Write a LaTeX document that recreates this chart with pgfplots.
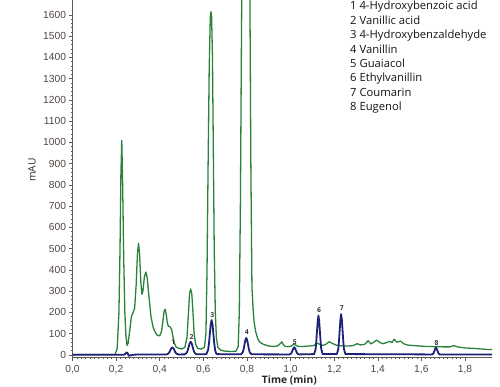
\documentclass[border=0pt]{standalone}
\usepackage{pgfplots}
\pgfplotsset{compat=1.18}
\usepackage{fontspec}
\setmainfont{Liberation Sans}
\newfontfamily\legfont{Open Sans}
\definecolor{gr}{RGB}{40,130,60}
\definecolor{nv}{RGB}{30,34,118}
\definecolor{axgray}{RGB}{95,90,88}
\definecolor{lblgray}{RGB}{80,70,66}
\begin{document}
\begin{tikzpicture}
\begin{axis}[
 scale only axis, width=419.5bp, height=357.7bp,
 xmin=0, xmax=1.924, ymin=-13, ymax=1670,
 axis lines=left, axis line style={-, axgray, line width=0.6pt},
 xtick={0,0.2,0.4,0.6,0.8,1.0,1.2,1.4,1.6,1.8},
 ytick={0,100,...,1600},
 minor x tick num=9, minor y tick num=4,
 tick align=outside, major tick length=3bp, minor tick length=1.5bp,
 tick style={axgray, line width=0.5pt},
 x tick label style={/pgf/number format/fixed, /pgf/number format/fixed zerofill, /pgf/number format/precision=1, /pgf/number format/use comma, yshift=-1bp},
 y tick label style={/pgf/number format/fixed, /pgf/number format/precision=0, /pgf/number format/1000 sep={}},
 /pgf/number format/assume math mode=true,
 ticklabel style={font=\fontsize{10.3}{11}\selectfont, text=lblgray},
 xlabel={Time (min)}, ylabel={mAU},
 every axis x label/.style={at={(rel axis cs:0.517,0)}, anchor=center, yshift=-22.3bp, font=\legfont\bfseries\fontsize{10.3}{11}\selectfont, text=black!85},
 every axis y label/.style={at={([xshift=-40.5bp]rel axis cs:0,0.525)}, rotate=90, anchor=center, font=\legfont\fontsize{10.3}{11}\selectfont, text=black!85},
 clip=true,
]
\coordinate (bl) at (rel axis cs:0,0);
\coordinate (tr) at (rel axis cs:1,1);
% green trace
\addplot[gr, line width=1.3pt, line join=round] coordinates {
(0,2) (0.195,2) (0.205,30) (0.213,200) (0.218,500) (0.222,850) (0.226,1010)
(0.230,800) (0.235,450) (0.240,200) (0.245,90) (0.250,45) (0.255,55)
(0.262,110) (0.270,180) (0.278,200) (0.285,220) (0.292,330) (0.298,480)
(0.303,525) (0.308,470) (0.313,350) (0.318,285) (0.323,300) (0.330,370)
(0.337,390) (0.343,360) (0.350,280) (0.360,180) (0.370,130) (0.380,105)
(0.390,92) (0.400,90) (0.408,110) (0.415,160) (0.420,205) (0.425,215)
(0.430,190) (0.435,150) (0.440,135) (0.448,132) (0.455,118) (0.460,90)
(0.467,55) (0.475,38) (0.485,32) (0.500,28) (0.515,35) (0.525,80)
(0.532,200) (0.537,290) (0.542,310) (0.547,290) (0.552,210) (0.558,100)
(0.565,50) (0.575,30) (0.590,28) (0.605,35) (0.612,100) (0.617,400)
(0.622,900) (0.627,1350) (0.632,1590) (0.635,1615) (0.638,1590) (0.642,1400)
(0.646,950) (0.650,500) (0.655,200) (0.660,80) (0.667,35) (0.680,22)
(0.700,18) (0.730,16) (0.750,18) (0.760,40) (0.765,200) (0.770,700)
(0.775,1500) (0.780,2200) (0.800,2800) (0.812,2000) (0.818,900)
(0.823,320) (0.828,220) (0.833,155) (0.840,110) (0.850,75) (0.860,60)
(0.875,50) (0.900,42) (0.920,40) (0.940,42) (0.955,55) (0.960,62)
(0.966,50) (0.975,40) (0.990,39) (1.005,42) (1.015,52) (1.022,47)
(1.035,40) (1.060,40) (1.080,42) (1.100,43) (1.115,48) (1.125,56)
(1.135,48) (1.150,45) (1.165,52) (1.177,62) (1.190,55) (1.210,46)
(1.240,42) (1.270,42) (1.290,45) (1.306,53) (1.320,47) (1.340,50)
(1.356,67) (1.368,52) (1.382,60) (1.395,70) (1.410,58) (1.425,53)
(1.440,58) (1.456,64) (1.465,58) (1.475,74) (1.488,60) (1.505,65)
(1.520,52) (1.540,46) (1.580,43) (1.620,40) (1.660,39) (1.700,38)
(1.730,38) (1.750,44) (1.765,38) (1.800,33) (1.850,30) (1.900,26) (1.924,25)
};
% blue trace
\addplot[nv, line width=1.8pt, line join=round] coordinates {
(0,0.5) (0.235,0.5) (0.242,5) (0.248,12) (0.253,8) (0.258,-4) (0.265,-2)
(0.280,1) (0.300,2)
(0.431,2.4) (0.440,6.6) (0.4445,13.0) (0.449,22.6) (0.4535,32.0) (0.458,36)
(0.4625,32.0) (0.467,22.6) (0.4715,13.0) (0.476,6.6) (0.485,2.4)
(0.515,2.7) (0.524,10.1) (0.5285,21.5) (0.533,38.4) (0.5375,55.0) (0.542,62)
(0.5465,55.0) (0.551,38.4) (0.5555,21.5) (0.560,10.1) (0.569,2.7)
(0.614,3.8) (0.622,23.9) (0.626,54.6) (0.630,100.3) (0.634,145) (0.638,164)
(0.642,145) (0.646,100.3) (0.650,54.6) (0.654,23.9) (0.658,9.1) (0.662,3.8)
(0.773,2.9) (0.781,12.5) (0.785,27.3) (0.789,49.3) (0.793,70.8) (0.797,80)
(0.801,70.8) (0.805,49.3) (0.809,27.3) (0.813,12.5) (0.821,2.9)
(0.996,2.4) (1.003,6.6) (1.010,22.6) (1.0135,32) (1.017,36) (1.0205,32)
(1.024,22.6) (1.031,6.6) (1.038,2.4)
(1.1085,4.0) (1.115,26.8) (1.118,61.4) (1.1215,113) (1.125,163.5) (1.128,185)
(1.131,163.5) (1.1345,113) (1.138,61.4) (1.141,26.8) (1.1475,4.0)
(1.2125,4.1) (1.219,27.7) (1.222,63.7) (1.2255,117.2) (1.229,169.7) (1.232,192)
(1.235,169.7) (1.2385,117.2) (1.242,63.7) (1.245,27.7) (1.2515,4.1)
(1.649,2.4) (1.655,6.3) (1.661,21.4) (1.664,30.2) (1.667,34) (1.670,30.2)
(1.673,21.4) (1.679,6.3) (1.685,2.4) (1.924,2)
};
% peak labels
\addplot[draw=none, mark=none, nodes near coords, point meta=explicit symbolic,
 every node near coord/.style={font=\legfont\bfseries\fontsize{6.8}{7}\selectfont, text=black!80, anchor=center, inner sep=0pt}]
 table[meta=l] {
x y l
0.462 62 1
0.546 86 2
0.641 188 3
0.800 108 4
1.020 62 5
1.131 211 6
1.235 220 7
1.670 58 8
};
\node[anchor=north west, inner sep=0pt, align=left, font=\legfont\fontsize{11.3}{14.5}\selectfont, text=black!92]
 at ([xshift=277.5bp, yshift=-1bp]rel axis cs:0,1) {1 4-Hydroxybenzoic acid\\2 Vanillic acid\\3 4-Hydroxybenzaldehyde\\4 Vanillin\\5 Guaiacol\\6 Ethylvanillin\\7 Coumarin\\8 Eugenol};
\end{axis}
\pgfresetboundingbox
\path[use as bounding box] ([xshift=-72.5bp, yshift=-29.3bp]bl) rectangle ([xshift=8bp]tr);
\end{tikzpicture}
\end{document}
